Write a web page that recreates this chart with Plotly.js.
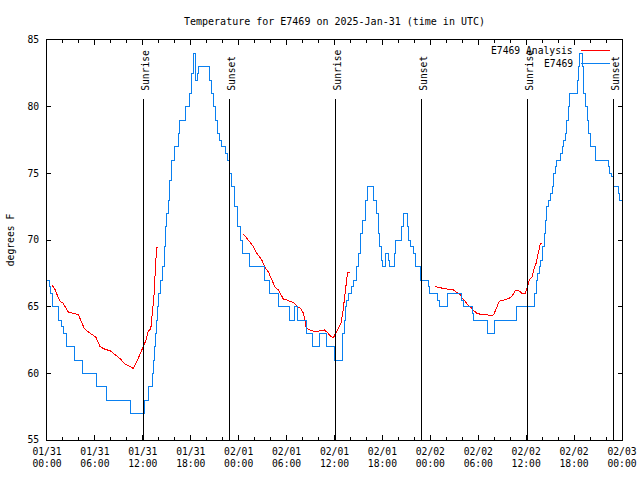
<!DOCTYPE html>
<html><head><meta charset="utf-8">
<script src="https://cdn.plot.ly/plotly-3.0.1.min.js"></script>
<style>html,body{margin:0;padding:0;background:#fff}#chart{width:640px;height:480px}
#chart .scatterlayer path.js-line{shape-rendering:crispEdges}
#chart .shapelayer path{shape-rendering:crispEdges}
</style>
</head><body><div id="chart"></div>
<script>
// Hours after 2025-01-31 00:00 UTC
const obsHours = [0.06,0.29,0.42,0.71,1.5,1.85,2.1,2.5,3.5,4.5,6.25,7.5,10.5,12.2,12.75,13.15,13.35,13.45,13.6,13.75,13.85,14.0,14.25,14.45,14.65,14.9,15.0,15.2,15.4,15.6,15.95,16.5,16.65,17.3,17.85,18.1,18.3,18.6,18.8,19.0,20.3,20.55,20.8,21.05,21.3,21.6,21.9,22.3,22.6,22.85,23.15,23.45,23.8,24.2,24.5,25.3,27.2,27.85,28.95,30.35,31.05,31.35,32.55,33.3,34.1,35.05,36.05,36.95,37.05,37.2,37.4,37.55,37.75,38.15,38.35,38.7,39.0,39.3,39.55,39.85,40.15,40.9,41.2,41.45,41.65,41.85,42.0,42.35,42.75,42.9,43.5,43.65,44.45,44.65,45.1,45.3,45.5,45.85,46.1,46.8,47.8,47.9,48.9,49.1,50.1,51.95,52.15,53.3,53.4,55.1,55.2,56.05,58.85,61.0,61.25,61.45,61.7,61.85,62.1,62.3,62.4,62.6,62.8,63.0,63.25,63.45,63.65,63.85,64.3,64.5,64.7,64.9,65.1,65.3,65.45,66.4,66.6,66.7,67.05,67.2,67.4,67.65,67.85,68.05,68.65,70.35,70.45,70.65,70.9,70.95,71.6,71.7,72.0];
const obsTemps = [67,66.5,66,65,64,63.5,63,62,61,60,59,58,57,58,59,60,61,62,63,64,65,66,67,68,69.5,71,72,73,74.5,76,77,78,79,80,81,82.5,84,82,82.5,83,82,81,80,79,78,77.5,77,76.5,76,75,74,72.5,71,70,69,68,67,66,65,64,65,64,63,62,63,62,61,62,63,64,65,65.5,66,66.5,67,68,69,70.5,71.5,73,74,73,72,70.5,69.5,68.5,68,69,68.5,68,69,70,71,72,71,70,69.5,69,68,67,66.5,66,65.5,65,66,65.5,65,64.5,64,63.5,63,64,65,66,67,67.5,68,68.5,69.5,70.5,71.5,72.5,73,73.5,74,75,75.5,76,76.5,77,77.5,78,79,80,81,82,83,84,83,81,80,79,78,77,76,75.5,75,74.75,74.5,74,73.5,73,73];

const anaHours = [0.66,1.0,1.29,1.63,1.97,2.26,2.67,3.3,3.92,4.22,4.64,5.18,5.8,6.14,6.64,7.27,7.89,8.52,9.15,9.77,10.4,10.81,11.24,11.65,12.07,12.41,12.7,12.99,13.2,13.32,13.45,13.57,13.75,13.95,
  19.0,
  24.6,25.03,25.53,25.85,26.28,26.6,26.9,27.32,27.73,28.16,28.57,28.99,29.29,29.61,30.04,30.45,30.86,31.37,31.7,32.12,32.46,32.96,33.58,34.21,34.75,35.13,35.55,35.88,36.22,36.5,36.8,37.05,37.22,37.34,37.47,37.63,37.88,
  43.0,
  48.62,49.25,49.79,50.29,50.91,51.34,51.75,52.04,52.38,52.72,53.01,53.42,53.85,54.47,55.1,55.51,55.93,56.35,56.64,57.18,57.81,58.23,58.65,59.06,59.49,59.9,60.11,60.4,60.74,60.94,61.24,61.49,61.78,61.99];
const anaTemps = [66.6,66.3,65.85,65.4,65.3,65.0,64.6,64.5,64.4,64.0,63.4,63.1,62.8,62.7,62.0,61.8,61.7,61.4,61.1,60.7,60.5,60.37,60.87,61.44,61.9,62.5,63.2,63.3,64.6,65.35,66.2,67.96,69.45,69.45,
  null,
  70.45,70.1,69.7,69.5,69.0,68.7,68.5,67.9,67.6,67.0,66.45,66.25,65.9,65.55,65.5,65.4,65.3,65.0,64.9,64.5,63.4,63.25,63.1,63.2,63.25,63.05,62.75,62.7,63.1,63.5,63.75,64.6,65.4,66.0,66.75,67.55,67.55,
  null,
  66.5,66.4,66.35,66.3,66.25,66.05,65.9,65.6,65.4,65.1,65.0,64.7,64.5,64.4,64.4,64.3,64.4,65.0,65.4,65.5,65.6,65.8,66.2,66.2,66.0,66.0,66.4,67.0,67.25,67.75,68.25,69.0,69.75,69.75];

const sunTimes = ['2025-01-31 12:04','2025-01-31 22:50','2025-02-01 12:04','2025-02-01 22:52','2025-02-02 12:08','2025-02-02 22:55'];
const sunLabels = ['Sunrise','Sunset','Sunrise','Sunset','Sunrise','Sunset'];
const seriesNames = ['E7469 Analysis','E7469'];
const titleText = 'Temperature for E7469 on 2025-Jan-31 (time in UTC)';
const yTitle = 'degrees F';
const xRange = ['2025-01-31 00:00','2025-02-03 00:00'];
const yRange = [55,85];

function hoursToDate(h){
  const ms = Date.UTC(2025,0,31) + Math.round(h*3600000);
  const d = new Date(ms);
  const p = n => String(n).padStart(2,'0');
  return d.getUTCFullYear()+'-'+p(d.getUTCMonth()+1)+'-'+p(d.getUTCDate())+' '+p(d.getUTCHours())+':'+p(d.getUTCMinutes())+':'+p(d.getUTCSeconds());
}

const FONT = 'DejaVu Sans Mono, Liberation Mono, monospace';
const FS = 9.7;
const RED = '#ff0000';
const BLUE = '#0a80f0';

// plot area in px: left 47, right 622, top 40, bottom 440
const L = 47, R = 622, T = 40, B = 440;
const px2x = x => (x - L) / (R - L);
const px2y = y => (B - y) / (B - T);

const traces = [
  {x: anaHours.map(hoursToDate), y: anaTemps, type:'scatter', mode:'lines', name: seriesNames[0],
   line:{color:RED, width:1}, connectgaps:false, showlegend:false},
  {x: obsHours.map(hoursToDate), y: obsTemps, type:'scatter', mode:'lines', name: seriesNames[1],
   line:{color:BLUE, width:1, shape:'hv'}, showlegend:false}
];

const shapes = sunTimes.map(t => ({type:'line', xref:'x', yref:'paper', x0:t, x1:t, y0:0, y1:px2y(99),
  line:{color:'#000', width:1}}));
const annotations = sunTimes.map((t,i) => ({xref:'x', yref:'paper', x:t, y:px2y(93), text:sunLabels[i],
  textangle:-90, showarrow:false, xanchor:'center', yanchor:'bottom', xshift:2,
  font:{family:FONT, size:FS, color:'#000'}}));

// gnuplot-style key: text then sample line
const keyY = [50, 63];
const traceColors = [RED, BLUE];
seriesNames.forEach((n,i) => {
  annotations.push({xref:'paper', yref:'paper', x:px2x(575), y:px2y(keyY[i]), text:n, showarrow:false,
    xanchor:'right', yanchor:'middle', font:{family:FONT, size:FS, color:'#000'}});
  shapes.push({type:'line', xref:'paper', yref:'paper', x0:px2x(581), x1:px2x(610), y0:px2y(keyY[i]), y1:px2y(keyY[i]),
    line:{color:traceColors[i], width:1}});
});

const layout = {
  width:640, height:480,
  margin:{l:L, r:640-R, t:T, b:480-B, pad:0},
  paper_bgcolor:'#fff', plot_bgcolor:'#fff',
  font:{family:FONT, size:FS, color:'#000'},
  title:{text:titleText, x:(L+R)/2/640, xanchor:'center', y:1-21/480, yanchor:'middle', xref:'container', yref:'container',
    font:{family:FONT, size:10, color:'#000'}},
  xaxis:{type:'date', range:xRange, showgrid:false, zeroline:false,
    showline:true, mirror:'ticks', linecolor:'#000', linewidth:1,
    ticks:'inside', ticklen:5, tickcolor:'#000', tickwidth:1,
    dtick:6*3600000, tick0:'2025-01-31 00:00', tickformat:'%m/%d<br>%H:%M',
    ticklabelstandoff:2,
    minor:{dtick:2*3600000, ticks:'inside', ticklen:3, tickcolor:'#000', showgrid:false},
    tickfont:{family:FONT, size:FS, color:'#000'}, automargin:false},
  yaxis:{range:yRange, showgrid:false, zeroline:false,
    showline:true, mirror:'ticks', linecolor:'#000', linewidth:1,
    ticks:'inside', ticklen:4, tickcolor:'#000', tickwidth:1, dtick:5, tick0:55,
    ticklabelstandoff:5,
    tickfont:{family:FONT, size:FS, color:'#000'}, automargin:false,
    title:{text:yTitle, standoff:10, font:{family:FONT, size:FS, color:'#000'}}},
  shapes:shapes, annotations:annotations,
  hovermode:false, showlegend:false
};

Plotly.newPlot('chart', traces, layout, {displayModeBar:false, staticPlot:true});
</script>
</body></html>
